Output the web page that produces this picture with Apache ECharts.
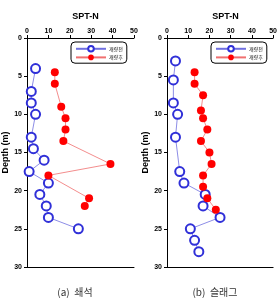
<!DOCTYPE html>
<html>
<head>
<meta charset="utf-8">
<script src="https://cdn.jsdelivr.net/npm/echarts@6/dist/echarts.min.js"></script>
<style>
  html, body { margin: 0; padding: 0; background: #fff; }
  #chart { width: 280px; height: 305px; }
</style>
</head>
<body>
<div id="chart"></div>
<script>
// (a) 쇄석
const aBeforeN = [4, 2, 2, 4, 2, 3, 8, 1, 10, 6, 9, 10, 24];
const aBeforeD = [4, 7, 8.5, 10, 13, 14.5, 16, 17.5, 19, 20.5, 22, 23.5, 25];
const aAfterN = [13, 13, 16, 18, 18, 17, 39, 10, 29, 27];
const aAfterD = [4.5, 6, 9, 10.5, 12, 13.5, 16.5, 18, 21, 22];
// (b) 슬래그
const bBeforeN = [4, 3, 3, 5, 4, 6, 8, 18, 17, 25, 11, 13, 15];
const bBeforeD = [3, 5.5, 8.5, 10, 13, 17.5, 19, 20.5, 22, 23.5, 25, 26.5, 28];
const bAfterN = [13, 13, 17, 16, 17, 19, 16, 20, 21, 17, 17, 19, 23];
const bAfterD = [4.5, 6, 7.5, 9.5, 10.5, 12, 13.5, 15, 16.5, 18, 19.5, 21, 22.5];

const seriesNames = ["개량전", "개량후"];
const captions = ["(a)  쇄석", "(b)  슬래그"];

const pair = (xs, ys) => xs.map((x, i) => [x, ys[i]]);

const chart = echarts.init(document.getElementById("chart"));

const panels = [
  { left: 27, before: pair(aBeforeN, aBeforeD), after: pair(aAfterN, aAfterD) },
  { left: 167, before: pair(bBeforeN, bBeforeD), after: pair(bAfterN, bAfterD) },
];

const xAxes = [];
const yAxes = [];
const grids = [];
const series = [];
const titles = [];
const legends = [];

panels.forEach((p, i) => {
  grids.push({ left: p.left, top: 38, width: 107, height: 229 });
  xAxes.push({
    gridIndex: i,
    type: "value",
    position: "top",
    min: 0,
    max: 50,
    interval: 10,
    axisLine: { show: true, lineStyle: { color: "#000", width: 1 } },
    axisTick: { show: true, inside: false, length: 3, lineStyle: { color: "#000" } },
    axisLabel: { color: "#000", fontSize: 7, fontWeight: "bold", margin: 3, fontFamily: "Arial, Liberation Sans" },
    splitLine: { show: false },
  });
  // bottom border line
  xAxes.push({
    gridIndex: i,
    type: "value",
    position: "bottom",
    min: 0,
    max: 50,
    axisLine: { show: true, lineStyle: { color: "#000", width: 1 } },
    axisTick: { show: false },
    axisLabel: { show: false },
    splitLine: { show: false },
  });
  yAxes.push({
    gridIndex: i,
    type: "value",
    inverse: true,
    min: 0,
    max: 30,
    interval: 5,
    name: "Depth (m)",
    nameLocation: "middle",
    nameGap: 14,
    nameTextStyle: { color: "#000", fontSize: 9, fontWeight: "bold", fontFamily: "Arial, Liberation Sans" },
    axisLine: { show: true, onZero: false, lineStyle: { color: "#000", width: 1 } },
    axisTick: { show: true, length: 3, lineStyle: { color: "#000" } },
    axisLabel: { color: "#000", fontSize: 7, fontWeight: "bold", margin: 5, fontFamily: "Arial, Liberation Sans" },
    splitLine: { show: false },
  });
  series.push({
    name: seriesNames[0],
    type: "line",
    xAxisIndex: i * 2,
    yAxisIndex: i,
    data: p.before,
    symbol: "emptyCircle",
    symbolSize: 9,
    lineStyle: { color: "#7070e0", width: 0.8 },
    itemStyle: { color: "#3030d8", borderWidth: 0.8 },
  });
  series.push({
    name: seriesNames[1],
    type: "line",
    xAxisIndex: i * 2,
    yAxisIndex: i,
    data: p.after,
    symbol: "circle",
    symbolSize: 8,
    lineStyle: { color: "#f07070", width: 0.8 },
    itemStyle: { color: "#ff0000" },
  });
  titles.push({
    text: "SPT-N",
    left: p.left + 53.5,
    textAlign: "center",
    top: 7,
    textStyle: { fontSize: 9, fontWeight: "bold", color: "#000", fontFamily: "Arial, Liberation Sans" },
  });
  titles.push({
    text: captions[i],
    left: p.left + 43,
    textAlign: "center",
    top: 282,
    textStyle: { fontSize: 10, fontWeight: "normal", color: "#333", fontFamily: "Noto Sans CJK KR" },
  });
  legends.push({
    data: seriesNames,
    left: p.left + 44,
    top: 42,
    orient: "vertical",
    itemGap: 2,
    itemWidth: 30,
    itemHeight: 7,
    padding: [3, 4, 3, 4],
    borderColor: "#000",
    borderWidth: 1,
    borderRadius: 4,
    textStyle: { fontSize: 5, color: "#000", fontFamily: "Noto Sans CJK KR", padding: [0, 0, 0, -2] },
  });
});

const option = {
  animation: false,
  backgroundColor: "#fff",
  title: titles,
  legend: legends,
  grid: grids,
  xAxis: xAxes,
  yAxis: yAxes,
  series: series,
};

chart.setOption(option);
</script>
</body>
</html>
